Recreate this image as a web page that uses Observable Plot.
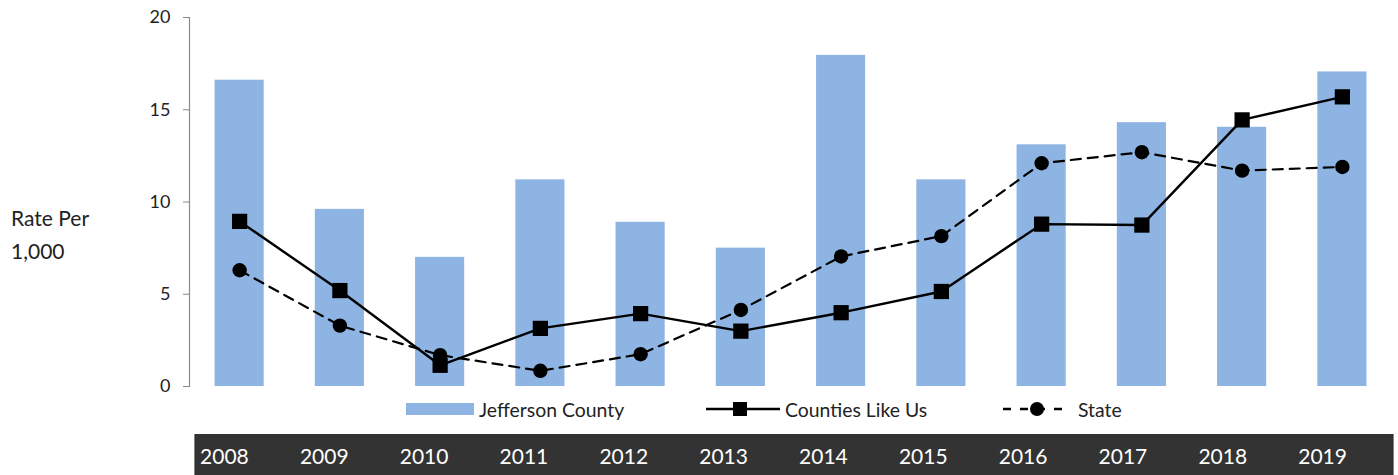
<!DOCTYPE html>
<html>
<head>
<meta charset="utf-8">
<script src="https://cdn.jsdelivr.net/npm/d3@7"></script>
<script src="https://cdn.jsdelivr.net/npm/@observablehq/plot@0.6"></script>
<style>
  html, body { margin: 0; padding: 0; background: #fff; }
  #wrap { position: relative; width: 1398px; height: 475px; font-family: Lato, "Open Sans", sans-serif; color: #222; }
  #main, #strip { position: absolute; left: 0; }
  #main { top: 0; }
  #strip { top: 434px; }
  .ylab { position: absolute; left: 11px; font-size: 21px; line-height: 33px; top: 201px; }
  .leg { position: absolute; top: 398px; height: 22px; display: flex; align-items: center; font-size: 19.4px; white-space: nowrap; }
  .leg svg { display: block; margin-right: 5px; }
</style>
</head>
<body>
<div id="wrap">
  <div id="main"></div>
  <div id="strip"></div>
  <div class="ylab">Rate Per<br>1,000</div>
  <div id="legend"></div>
</div>
<script>
const years = ["2008","2009","2010","2011","2012","2013","2014","2015","2016","2017","2018","2019"];
const jefferson = [16.6, 9.6, 7.0, 11.2, 8.9, 7.5, 17.95, 11.2, 13.1, 14.3, 14.05, 17.05];
const countiesLikeUs = [8.95, 5.2, 1.15, 3.15, 3.95, 3.0, 4.0, 5.15, 8.8, 8.75, 14.45, 15.7];
const state = [6.3, 3.3, 1.7, 0.85, 1.75, 4.15, 7.05, 8.15, 12.1, 12.7, 11.7, 11.9];
const yTicks = [0, 5, 10, 15, 20];

const seriesNames = ["Jefferson County", "Counties Like Us", "State"];
const barColor = "#8EB4E3";

const rows = years.map((y, i) => ({year: y, jefferson: jefferson[i], counties: countiesLikeUs[i], state: state[i]}));

const main = Plot.plot({
  width: 1398,
  height: 434,
  marginLeft: 189,
  marginRight: 6,
  marginTop: 17,
  marginBottom: 48,
  style: {fontFamily: "Lato, 'Open Sans', sans-serif", background: "transparent"},
  x: {type: "band", domain: years, paddingInner: 0.51, paddingOuter: 0.255, round: false, axis: null},
  y: {domain: [0, 20], ticks: yTicks, axis: null},
  marks: [
    Plot.barY(rows, {x: "year", y: "jefferson", fill: barColor}),
    Plot.frame({anchor: "left", stroke: "#8a8a8a", strokeWidth: 1.2}),
    Plot.axisY({ticks: yTicks, tickSize: 6, tickPadding: 13, fontSize: 18, stroke: "#8a8a8a", fill: "#222", label: null, tickFormat: d => String(d)}),
    Plot.line(rows, {x: "year", y: "state", stroke: "#000", strokeWidth: 2.2, strokeDasharray: "10,7"}),
    Plot.line(rows, {x: "year", y: "counties", stroke: "#000", strokeWidth: 2.4}),
    Plot.dot(rows, {x: "year", y: "state", r: 7.2, fill: "#000", stroke: "none"}),
    Plot.dot(rows, {x: "year", y: "counties", symbol: "square", r: 8.6, fill: "#000", stroke: "none"})
  ]
});
document.getElementById("main").appendChild(main);

const strip = Plot.plot({
  width: 1398,
  height: 41,
  marginLeft: 195,
  marginRight: 5,
  marginTop: 0,
  marginBottom: 0,
  style: {fontFamily: "Lato, 'Open Sans', sans-serif", background: "transparent"},
  x: {type: "band", domain: years, padding: 0, round: false, axis: null},
  marks: [
    Plot.cell(years, {x: d => d, fill: "#333333", insetLeft: -0.6, insetRight: -0.6, insetTop: 0, insetBottom: 0}),
    Plot.text(years, {x: d => d, text: d => d, fill: "#fff", fontSize: 21, dx: -21, dy: 2})
  ]
});
document.getElementById("strip").appendChild(strip);

// Legend
const legend = document.getElementById("legend");
const legItems = [
  {name: seriesNames[0], left: 406, kind: "bar"},
  {name: seriesNames[1], left: 706, kind: "square"},
  {name: seriesNames[2], left: 1003, kind: "circle"}
];
legItems.forEach(it => {
  const div = document.createElement("div");
  div.className = "leg";
  div.style.left = it.left + "px";
  const svg = d3.create("svg");
  if (it.kind === "bar") {
    svg.attr("width", 68).attr("height", 22);
    svg.append("rect").attr("x", 0).attr("y", 5).attr("width", 68).attr("height", 12).attr("fill", barColor);
  } else if (it.kind === "square") {
    svg.attr("width", 74).attr("height", 22);
    svg.append("line").attr("x1", 0).attr("x2", 74).attr("y1", 11).attr("y2", 11).attr("stroke", "#000").attr("stroke-width", 2.4);
    svg.append("rect").attr("x", 27).attr("y", 4).attr("width", 14).attr("height", 14).attr("fill", "#000");
  } else {
    svg.attr("width", 70).attr("height", 22);
    svg.append("line").attr("x1", 0).attr("x2", 66).attr("y1", 11).attr("y2", 11).attr("stroke", "#000").attr("stroke-width", 2.4).attr("stroke-dasharray", "8,9");
    svg.append("circle").attr("cx", 34).attr("cy", 11).attr("r", 7).attr("fill", "#000");
  }
  div.appendChild(svg.node());
  const span = document.createElement("span");
  span.textContent = it.name;
  div.appendChild(span);
  legend.appendChild(div);
});
</script>
</body>
</html>
